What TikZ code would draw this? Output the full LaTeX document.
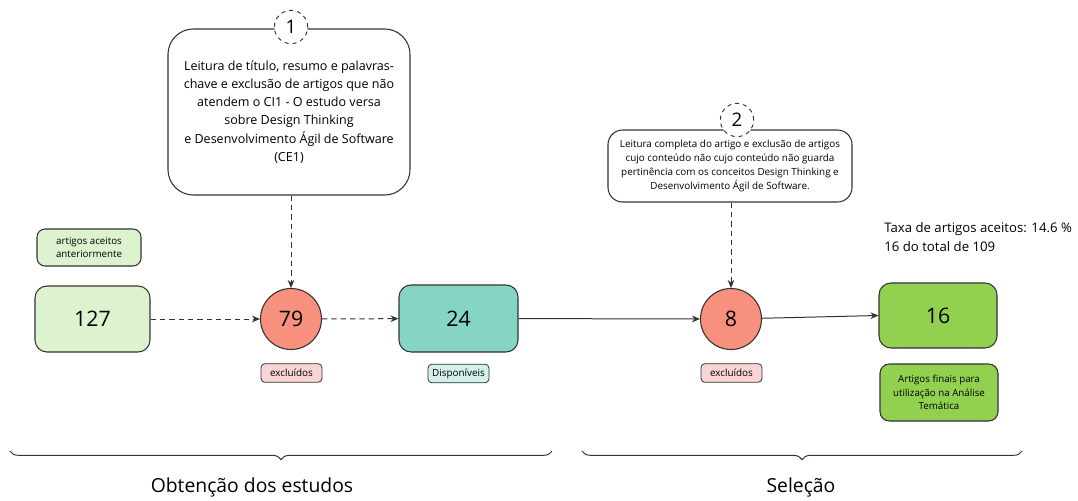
\documentclass[tikz,border=0pt]{standalone}
\usepackage{fontspec}
\setmainfont{Open Sans}
\usetikzlibrary{arrows.meta,decorations.pathreplacing}

\definecolor{verdeclaro}{HTML}{DDF2CF}
\definecolor{salmao}{HTML}{F7917D}
\definecolor{turquesa}{HTML}{86D4C4}
\definecolor{turquesaclaro}{HTML}{D4F0EA}
\definecolor{verde}{HTML}{92D050}
\definecolor{rosa}{HTML}{F8D4D4}
\definecolor{traco}{HTML}{333333}

\tikzset{
  caixa/.style={draw=traco, line width=0.8pt, rounded corners=9pt, align=center, inner sep=0pt},
  numero/.style={font=\fontsize{16}{19}\selectfont},
  circulo/.style={circle, draw=traco, line width=0.8pt, fill=salmao, minimum size=45.75pt,
    inner sep=0pt, font=\fontsize{16}{19}\selectfont},
  rotulo/.style={draw=traco, line width=0.6pt, rounded corners=3pt, align=center, inner sep=0pt,
    minimum width=45.75pt, minimum height=14pt, font=\fontsize{7.4}{10}\selectfont},
  etapa/.style={circle, draw=traco, dashed, fill=white, line width=0.7pt, minimum size=25pt,
    inner sep=0pt, font=\fontsize{14}{16}\selectfont},
  descricao/.style={draw=traco, line width=0.8pt, align=center, inner sep=0pt, fill=white},
  seta/.style={-{Stealth[length=6pt,width=5pt]}, line width=0.75pt, draw=traco},
  tracejada/.style={seta, dash pattern=on 4pt off 3pt},
  chave/.style={decorate, decoration={brace, mirror, amplitude=6.5pt}, line width=0.75pt, draw=traco},
}

\begin{document}
\begin{tikzpicture}[x=0.75pt, y=-0.75pt]
    \fill[white] (0,0) rectangle (1078,500);
    \useasboundingbox (0,0) rectangle (1078,500);

    % Etapa 1
    \node[descricao, rounded corners=19pt, minimum width=181.5pt, minimum height=124.5pt,
      font=\fontsize{9.4}{13.7}\selectfont] (desc1) at (289,112)
      {Leitura de título, resumo e palavras-\\chave e exclusão de artigos que não\\atendem o CI1 - O estudo versa\\sobre Design Thinking\\e Desenvolvimento Ágil de Software\\(CE1)};
    \node[etapa] (e1) at (291,27) {1};

    % Etapa 2
    \node[descricao, rounded corners=11pt, minimum width=183pt, minimum height=54pt,
      font=\fontsize{7.4}{10.5}\selectfont] (desc2) at (730,166)
      {Leitura completa do artigo e exclusão de artigos\\cujo conteúdo não cujo conteúdo não guarda\\pertinência com os conceitos Design Thinking e\\Desenvolvimento Ágil de Software.};
    \node[etapa] (e2) at (737,120) {2};

    % Caixas e círculos
    \node[caixa, fill=verdeclaro, minimum width=78pt, minimum height=27.75pt, rounded corners=6pt,
      font=\fontsize{7.3}{10}\selectfont] (aceitos) at (89,247.5) {artigos aceitos\\anteriormente};
    \node[caixa, fill=verdeclaro, minimum width=86.25pt, minimum height=49.5pt, numero] (n127) at (92.5,319) {127};
    \node[circulo] (c79) at (291,319) {79};
    \node[rotulo, fill=rosa] (exc1) at (291.5,373) {excluídos};
    \node[caixa, fill=turquesa, minimum width=89.25pt, minimum height=50.25pt, numero] (n24) at (458.5,318.5) {24};
    \node[rotulo, fill=turquesaclaro] (disp) at (458.5,373.5) {Disponíveis};
    \node[circulo] (c8) at (731,319) {8};
    \node[rotulo, fill=rosa] (exc2) at (731.5,373) {excluídos};
    \node[caixa, fill=verde, minimum width=88.5pt, minimum height=48.75pt, numero] (n16) at (938,315.5) {16};
    \node[caixa, fill=verde, minimum width=88.5pt, minimum height=42.75pt, rounded corners=7pt,
      font=\fontsize{7.3}{10}\selectfont] (finais) at (939,392.5) {Artigos finais para\\utilização na Análise\\Temática};

    % Taxa
    \node[anchor=west, align=left, inner sep=0pt, font=\fontsize{9.9}{14}\selectfont] (taxa) at (884,237)
      {Taxa de artigos aceitos: 14.6 \%\\16 do total de 109};

    % Setas
    \draw[tracejada] (desc1.south -| c79) -- (c79);
    \draw[tracejada] (desc2.south -| c8) -- (c8);
    \draw[tracejada] (n127) -- (c79);
    \draw[tracejada] (c79) -- (n24);
    \draw[seta] (n24) -- (c8);
    \draw[seta] (c8) -- (n16.west);

    % Chaves
    \coordinate (ob1) at (10,451);
    \coordinate (ob2) at (552,451);
    \coordinate (se1) at (582,451);
    \coordinate (se2) at (1022,451);
    \draw[chave] (ob1) -- (ob2);
    \draw[chave] (se1) -- (se2);
    \node[font=\fontsize{14.5}{17}\selectfont] (obtencao) at (252,487) {Obtenção dos estudos};
    \node[font=\fontsize{14.5}{17}\selectfont] (selecao) at (801,487) {Seleção};
\end{tikzpicture}
\end{document}
